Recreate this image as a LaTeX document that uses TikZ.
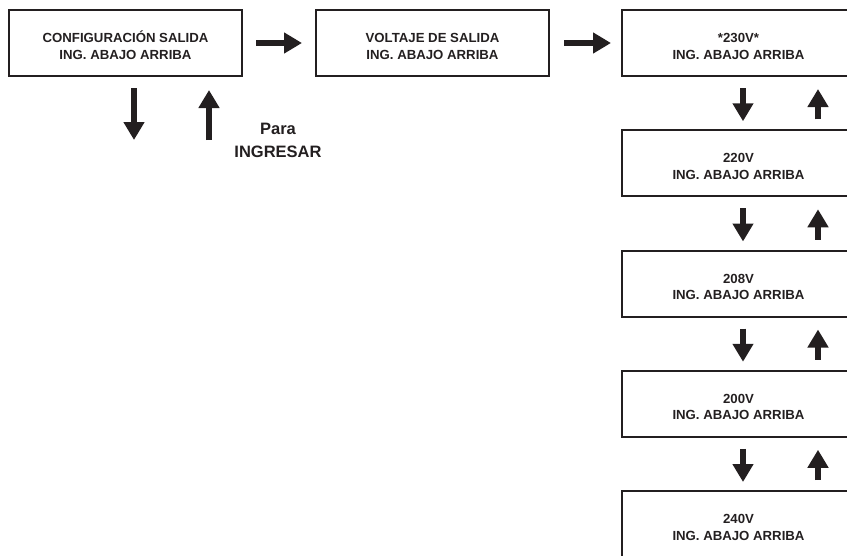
\documentclass[tikz,border=0pt]{standalone}
\usepackage{fontspec}
\setmainfont{Liberation Sans}
\usetikzlibrary{arrows.meta,calc}
\definecolor{ink}{HTML}{231F20}
\newcommand{\topstrut}{\rule{0pt}{16pt}}
\tikzset{
  menubox/.style={draw=ink, line width=2pt, minimum width=233pt, minimum height=66pt,
    inner sep=0pt, align=center, text=ink,
    font=\fontsize{13.2pt}{16.5pt}\selectfont\bfseries},
  bigarrow/.style={draw=ink, line width=5.5pt,
    -{Triangle[width=20pt,length=18pt]}},
  label/.style={text=ink, align=center, inner sep=0pt,
    font=\fontsize{16.5pt}{23pt}\selectfont\bfseries}
}
\begin{document}
\begin{tikzpicture}[x=1pt,y=-1pt]
\useasboundingbox (0,0) rectangle (847,555);
\clip (0,0) rectangle (847,555);
\node[menubox] (b1) at (125.5,43) {\topstrut CONFIGURACIÓN SALIDA\\ING. ABAJO ARRIBA};
\node[menubox] (b2) at (432.5,43) {\topstrut VOLTAJE DE SALIDA\\ING. ABAJO ARRIBA};
\node[menubox] (b3) at (738.5,43) {\topstrut *230V*\\ING. ABAJO ARRIBA};
\node[menubox] (b4) at (738.5,163.25) {\topstrut 220V\\ING. ABAJO ARRIBA};
\node[menubox] (b5) at (738.5,283.5) {\topstrut 208V\\ING. ABAJO ARRIBA};
\node[menubox] (b6) at (738.5,403.75) {\topstrut 200V\\ING. ABAJO ARRIBA};
\node[menubox] (b7) at (738.5,524) {\topstrut 240V\\ING. ABAJO ARRIBA};
% horizontal arrows
\draw[bigarrow] ([xshift=13pt]b1.east) -- ([xshift=-13pt]b2.west);
\draw[bigarrow] ([xshift=14pt]b2.east) -- ([xshift=-10pt]b3.west);
% arrows below first box
\coordinate (d1) at ([xshift=8.5pt,yshift=-63pt]b1.south);
\coordinate (u1) at ([xshift=83.5pt,yshift=-63pt]b1.south);
\draw[bigarrow] ([xshift=8.5pt,yshift=-11pt]b1.south) -- (d1);
\draw[bigarrow] (u1) -- ([xshift=83.5pt,yshift=-13pt]b1.south);
\node[label] (para) at (278,140) {Para\\INGRESAR};
% vertical chain
\foreach \a/\b in {b3/b4,b4/b5,b5/b6,b6/b7}{
  \draw[bigarrow] ([xshift=4.5pt,yshift=-11pt]\a.south) -- ([xshift=4.5pt,yshift=8pt]\b.north);
  \draw[bigarrow] ([xshift=79.5pt,yshift=10pt]\b.north) -- ([xshift=79.5pt,yshift=-12pt]\a.south);
}
\end{tikzpicture}
\end{document}
